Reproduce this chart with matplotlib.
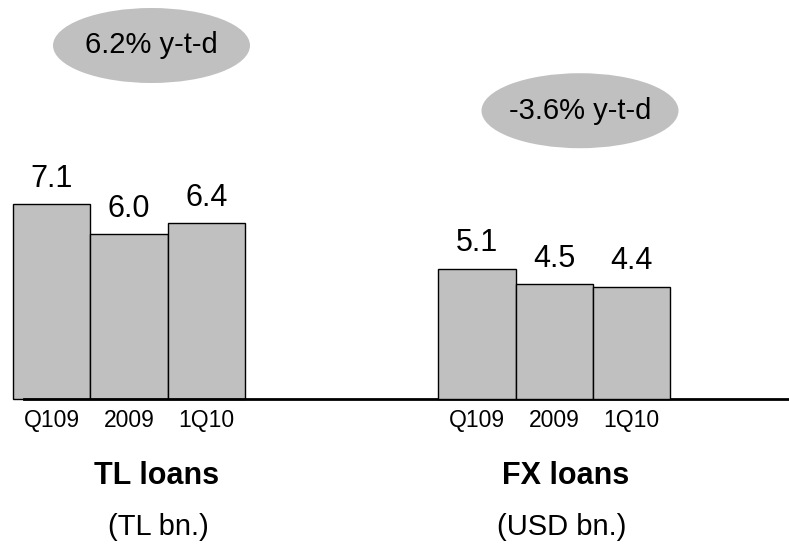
import matplotlib
matplotlib.use("Agg")
import matplotlib.pyplot as plt
from matplotlib.patches import Ellipse

plt.rcParams['font.family'] = ['Liberation Sans', 'DejaVu Sans']

# Loan volumes by period
periods = ["Q109", "2009", "1Q10"]
tl_values = [7.1, 6.0, 6.4]      # TL bn.
fx_values = [5.1, 4.5, 4.4]      # USD bn.
tl_ytd = "6.2% y-t-d"
fx_ytd = "-3.6% y-t-d"
tl_title, tl_unit = "TL loans", "(TL bn.)"
fx_title, fx_unit = "FX loans", "(USD bn.)"

W, H = 789, 545
fig = plt.figure(figsize=(W / 100, H / 100), dpi=100)

def fx_(px):
    return px / W

def fy_(py):
    return 1 - py / H

base_px = 399.3
ax_left, ax_right = 24, 789
ax = fig.add_axes([fx_(ax_left), fy_(base_px), fx_(ax_right - ax_left), base_px / H])
ax2 = ax.twinx()

unit_px = 77.3
c0 = 51.7
ax.set_xlim((ax_left - c0) / unit_px, (ax_right - c0) / unit_px)
ax.set_ylim(0, base_px / 27.5)
ax2.set_ylim(0, base_px / 25.6)

tl_pos = [0, 1, 2]
fx_pos = [5.5, 6.5, 7.5]
bar_kw = dict(width=1.0, color="#c0c0c0", edgecolor="black", linewidth=1.0, clip_on=False)
ax.bar(tl_pos, tl_values, **bar_kw)
ax2.bar(fx_pos, fx_values, **bar_kw)

for a, pos, vals in ((ax, tl_pos, tl_values), (ax2, fx_pos, fx_values)):
    for x, v in zip(pos, vals):
        a.annotate(f"{v:.1f}", (x, v), xytext=(0, 12.5), textcoords="offset points",
                   ha="center", va="baseline", fontsize=22, color="black")

for a in (ax, ax2):
    for s in ("top", "left", "right"):
        a.spines[s].set_visible(False)
    a.set_yticks([])
ax2.spines["bottom"].set_visible(False)
ax.spines["bottom"].set_linewidth(2.0)
ax.set_xticks(tl_pos + fx_pos)
ax.set_xticklabels(periods + periods, fontsize=16.5)
ax.tick_params(axis="x", length=0, pad=7)

# y-t-d bubbles
for (cx, cy, by, txt) in ((151.5, 45.5, 53.3, tl_ytd), (580, 110.7, 119.3, fx_ytd)):
    e = Ellipse((fx_(cx), fy_(cy)), fx_(197), 75 / H, transform=fig.transFigure,
                facecolor="#c0c0c0", edgecolor="none")
    fig.patches.append(e)
    fig.text(fx_(cx), fy_(by), txt, ha="center", va="baseline", fontsize=21)

# group captions
fig.text(fx_(157), fy_(483.5), tl_title, ha="center", va="baseline", fontsize=22, fontweight="bold")
fig.text(fx_(158), fy_(535), tl_unit, ha="center", va="baseline", fontsize=21)
fig.text(fx_(566), fy_(483.5), fx_title, ha="center", va="baseline", fontsize=22, fontweight="bold")
fig.text(fx_(562), fy_(535), fx_unit, ha="center", va="baseline", fontsize=21)

fig.savefig("out.png", dpi=100)
